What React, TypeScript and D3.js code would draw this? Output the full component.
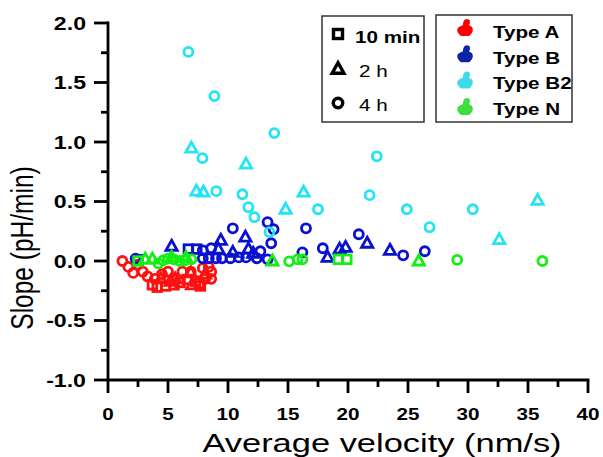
import React from "react";
import * as d3 from "d3";

type P = [number, number];

// Type A (red)
const typeA10min: P[] = [[3.7,-0.2],[4.1,-0.22],[4.8,-0.21],[5.5,-0.2],[6.0,-0.18],[6.6,-0.155],[7.3,-0.17],[7.7,-0.21],[7.6,-0.19]];
const typeA2h: P[] = [[4.4,-0.15],[5.6,-0.15],[6.9,-0.1],[8.1,-0.11],[5.2,-0.17],[7.0,-0.2]];
const typeA4h: P[] = [[1.2,0.0],[1.7,-0.05],[2.1,-0.1],[2.9,-0.09],[3.3,-0.13],[3.9,-0.15],[5.0,-0.09],[6.2,-0.09],[6.9,-0.09],[7.9,-0.06],[8.4,-0.05],[8.6,-0.09],[8.1,-0.15],[8.6,-0.15],[4.5,-0.11],[2.5,-0.03]];

// Type B (blue)
const typeB10min: P[] = [[6.7,0.1],[7.4,0.1],[2.5,0.01]];
const typeB2h: P[] = [[5.3,0.124],[9.4,0.174],[9.2,0.1],[10.4,0.073],[11.45,0.2],[11.7,0.1],[12.1,0.065],[18.3,0.03],[19.3,0.1],[19.8,0.115],[21.6,0.149],[23.5,0.09]];
const typeB4h: P[] = [[2.3,0.02],[7.9,0.09],[8.6,0.107],[7.9,0.023],[8.4,0.023],[9.0,0.023],[9.5,0.023],[10.2,0.023],[10.4,0.275],[10.9,0.03],[11.5,0.03],[12.4,0.023],[13.3,0.014],[12.7,0.082],[13.3,0.326],[13.8,0.267],[13.6,0.149],[16.2,0.073],[16.5,0.275],[17.9,0.107],[20.9,0.225],[24.6,0.048],[26.4,0.082]];

// Type B2 (cyan)
const typeB2_2h: P[] = [[6.95,0.949],[11.5,0.814],[7.37,0.587],[7.95,0.578],[16.3,0.578],[14.8,0.435],[35.8,0.51],[32.6,0.18]];
const typeB2_4h: P[] = [[6.7,1.757],[8.87,1.386],[13.86,1.075],[7.87,0.864],[22.4,0.88],[9.03,0.587],[11.2,0.561],[21.8,0.553],[11.7,0.452],[12.2,0.368],[17.5,0.435],[24.9,0.435],[30.4,0.435],[26.8,0.284],[13.45,0.242]];

// Type N (green)
const typeN10min: P[] = [[2.5,0.0],[19.2,0.014],[19.9,0.014]];
const typeN2h: P[] = [[3.1,0.015],[3.7,0.015],[5.3,0.03],[6.5,0.03],[13.7,0.0],[25.9,0.0]];
const typeN4h: P[] = [[4.2,-0.02],[4.6,0.005],[5.0,0.02],[5.5,0.014],[6.0,0.0],[6.4,0.005],[6.95,0.014],[15.1,-0.003],[15.8,0.014],[16.2,0.014],[29.1,0.01],[36.2,0.0]];

const xMajor = [0, 5, 10, 15, 20, 25, 30, 35, 40];
const xMinor = [2.5, 7.5, 12.5, 17.5, 22.5, 27.5, 32.5, 37.5];
const yMajor = [-1.0, -0.5, 0.0, 0.5, 1.0, 1.5, 2.0];
const yMinor = [-0.75, -0.25, 0.25, 0.75, 1.25, 1.75];

const typeNames = ["Type A", "Type B", "Type B2", "Type N"];
const timeNames = ["10 min", "2 h", "4 h"];

const COL = { A: "#ff1010", B: "#0a10d0", B2: "#22e4f4", N: "#14ee14" };
const LEG_COL = ["#ff0000", "#0a24a8", "#40d8ec", "#3ede3e"];

const x = d3.scaleLinear().domain([0, 40]).range([108, 588]);
const y = d3.scaleLinear().domain([-1, 2]).range([380, 23]);

const FONT = "Liberation Sans, Arial, sans-serif";
const SW = 2.8;

function Marker({ shape, cx, cy, color, sw = SW, k = 1 }: { shape: string; cx: number; cy: number; color: string; sw?: number; k?: number }) {
  if (shape === "s") {
    const h = 4.3 * k;
    return <rect x={cx - h} y={cy - h} width={2 * h} height={2 * h} fill="none" stroke={color} strokeWidth={sw} />;
  }
  if (shape === "t") {
    const p = d3.path();
    p.moveTo(cx, cy - 6 * k);
    p.lineTo(cx + 5.6 * k, cy + 4 * k);
    p.lineTo(cx - 5.6 * k, cy + 4 * k);
    p.closePath();
    return <path d={p.toString()} fill="none" stroke={color} strokeWidth={sw} strokeLinejoin="miter" />;
  }
  return <circle cx={cx} cy={cy} r={4.5 * k} fill="none" stroke={color} strokeWidth={sw} />;
}

const series: { data: P[]; shape: string; color: string }[] = [
  { data: typeA4h, shape: "c", color: COL.A },
  { data: typeA2h, shape: "t", color: COL.A },
  { data: typeA10min, shape: "s", color: COL.A },
  { data: typeB4h, shape: "c", color: COL.B },
  { data: typeB2h, shape: "t", color: COL.B },
  { data: typeB10min, shape: "s", color: COL.B },
  { data: typeB2_4h, shape: "c", color: COL.B2 },
  { data: typeB2_2h, shape: "t", color: COL.B2 },
  { data: typeN4h, shape: "c", color: COL.N },
  { data: typeN2h, shape: "t", color: COL.N },
  { data: typeN10min, shape: "s", color: COL.N },
];

const blob = "M 2,-9 C 5,-9 6,-6 4,-3 L 7,-1 C 9,2 7,6 4,8 L -4,8 C -8,5 -9,1 -6,-1 L -2,-3 C -2,-6 -1,-9 2,-9 Z";

export default function App() {
  const sx = 1.25;
  return (
    <svg width={603} height={457} style={{ position: "absolute", left: 0, top: 0, background: "#fff" }}>
      <rect width={603} height={457} fill="#fff" />
      {series.map((s, i) => (
        <g key={i}>
          {s.data.map((d, j) => (
            <Marker key={j} shape={s.shape} cx={x(d[0])} cy={y(d[1])} color={s.color} />
          ))}
        </g>
      ))}
      <g stroke="#000" strokeWidth={2.8} strokeLinecap="square">
        <line x1={x(0)} y1={y(2)} x2={x(0)} y2={y(-1)} />
        <line x1={x(0)} y1={y(-1)} x2={x(40)} y2={y(-1)} />
      </g>
      <g stroke="#000" strokeWidth={2.8}>
        {xMajor.map((v) => (
          <line key={"xM" + v} x1={x(v)} x2={x(v)} y1={y(-1)} y2={y(-1) + 13} />
        ))}
        {xMinor.map((v) => (
          <line key={"xm" + v} x1={x(v)} x2={x(v)} y1={y(-1)} y2={y(-1) + 7} />
        ))}
        {yMajor.map((v) => (
          <line key={"yM" + v} x1={x(0) - 14} x2={x(0)} y1={y(v)} y2={y(v)} />
        ))}
        {yMinor.map((v) => (
          <line key={"ym" + v} x1={x(0) - 7} x2={x(0)} y1={y(v)} y2={y(v)} />
        ))}
      </g>
      <g fontFamily={FONT} fontWeight="bold" fill="#000">
        {xMajor.map((v) => (
          <text key={"xl" + v} transform={`translate(${x(v)},420) scale(${sx},1)`} textAnchor="middle" fontSize={16.5}>
            {String(v)}
          </text>
        ))}
        {yMajor.map((v) => (
          <text key={"yl" + v} transform={`translate(86,${y(v) + 6.8}) scale(${sx},1)`} textAnchor="end" fontSize={18.5}>
            {v.toFixed(1)}
          </text>
        ))}
      </g>
      <text transform={`translate(382,452) scale(1.3,1)`} textAnchor="middle" fontFamily={FONT} fontSize={26.5} fill="#000">
        Average velocity (nm/s)
      </text>
      <text transform={`translate(33,248) scale(1.25,1) rotate(-90)`} textAnchor="middle" fontFamily={FONT} fontSize={24.5} fill="#000">
        Slope (pH/min)
      </text>
      <rect x={322} y={16} width={102} height={106} fill="#fff" stroke="#333" strokeWidth={1.5} />
      {timeNames.map((t, i) => {
        const cy = [34, 69, 103][i];
        const by = [43, 77, 111][i];
        return (
          <g key={t}>
            <Marker shape={["s", "t", "c"][i]} cx={338} cy={cy} color="#000" sw={3.4} k={1.05} />
            <text transform={`translate(${i === 0 ? 355 : 359},${by}) scale(${sx},1)`} fontFamily={FONT} fontSize={16.5} fontWeight={i === 0 ? "bold" : "normal"} fill="#000">
              {t}
            </text>
          </g>
        );
      })}
      <rect x={436} y={15} width={136} height={107} fill="#fff" stroke="#333" strokeWidth={1.5} />
      {typeNames.map((t, i) => {
        const cy = 28 + i * 26.3;
        return (
          <g key={t}>
            <path d={blob} transform={`translate(465,${cy})`} fill={LEG_COL[i]} />
            <text transform={`translate(493,${38 + i * 25.7}) scale(${sx},1)`} fontFamily={FONT} fontSize={16.5} fontWeight="bold" fill="#000">
              {t}
            </text>
          </g>
        );
      })}
    </svg>
  );
}
